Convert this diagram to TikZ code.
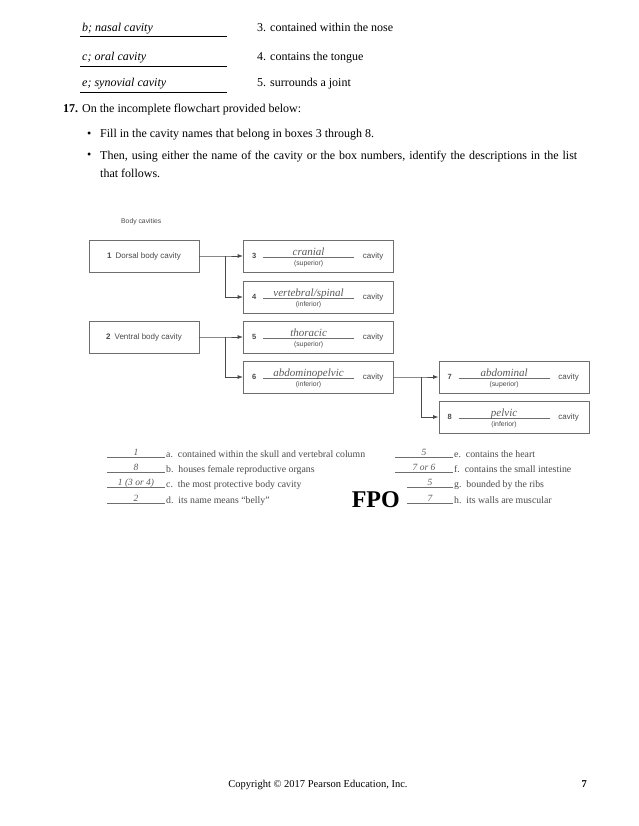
\documentclass[tikz,border=0pt]{standalone}
\usepackage{fontspec}
\setmainfont{Liberation Serif}
\newfontfamily\sansf{Liberation Sans}
\usetikzlibrary{arrows.meta}
\definecolor{figgray}{HTML}{4A4A4A}
\definecolor{linegray}{HTML}{6E6E6E}
\definecolor{handgray}{HTML}{5A5A5A}
\newcommand\cavbox[6]{%
  \node[cbox] (#1) at (#2,#3) {};
  \node[numst] at ([xshift=11pt]#1.west) {#4};
  \draw[ulfig] ([xshift=20pt,yshift=-1pt]#1.west) -- ([xshift=111pt,yshift=-1pt]#1.west);
  \node[handfig] at ([xshift=65.5pt,yshift=1pt]#1.west) {#5};
  \node[subst] at ([xshift=65.5pt,yshift=-8pt]#1.west) {#6};
  \node[figtxt] at ([xshift=130pt]#1.west) {cavity};
}
\begin{document}
\begin{tikzpicture}[x=1pt,y=-1pt,
  main/.style={font=\fontsize{12}{14}\selectfont, anchor=base west, inner sep=0pt},
  ital/.style={font=\fontsize{12}{14}\selectfont\itshape, anchor=base west, inner sep=0pt},
  ulmain/.style={draw=black, line width=0.8pt},
  cbox/.style={draw=linegray, line width=0.8pt, minimum width=150pt, minimum height=32pt, inner sep=0pt},
  bigbox/.style={draw=linegray, line width=0.8pt, minimum width=110pt, minimum height=32pt, inner sep=0pt, text=figgray, font=\sansf\fontsize{8}{9}\selectfont},
  numst/.style={font=\sansf\bfseries\fontsize{7.5}{8}\selectfont, text=figgray, inner sep=0pt},
  figtxt/.style={font=\sansf\fontsize{8}{9}\selectfont, text=figgray, inner sep=0pt},
  subst/.style={font=\sansf\fontsize{6.8}{8}\selectfont, text=figgray, inner sep=0pt},
  handfig/.style={font=\fontsize{11}{12}\selectfont\itshape, text=handgray, anchor=base, inner sep=0pt},
  ulfig/.style={draw=linegray, line width=0.7pt},
  conn/.style={draw=figgray, line width=0.8pt},
  arr/.style={conn, -{Latex[length=5.5pt,width=4pt]}},
  listtxt/.style={font=\fontsize{9.8}{11}\selectfont, text=figgray, anchor=base west, inner sep=0pt},
  listans/.style={font=\fontsize{9.5}{11}\selectfont\itshape, text=handgray, anchor=base, inner sep=0pt},
  ullist/.style={draw=linegray, line width=0.7pt}
]
\useasboundingbox (0,0) rectangle (638,826);
\fill[white] (0,0) rectangle (638,826);

% top matching items
\node[ital] (m1) at (82,32) {b; nasal cavity};
\draw[ulmain] (80,36) -- (227,36);
\node[main] (d1) at (257,32) {3. contained within the nose};
\node[ital] (m2) at (82,61) {c; oral cavity};
\draw[ulmain] (80,66) -- (227,66);
\node[main] (d2) at (257,61) {4. contains the tongue};
\node[ital] (m3) at (82,87) {e; synovial cavity};
\draw[ulmain] (80,92) -- (227,92);
\node[main] (d3) at (257,87) {5. surrounds a joint};

% question 17
\node[main] (q17) at (63,113) {\textbf{17.} On the incomplete flowchart provided below:};
\node[main] (bul1) at (87,138) {•};
\node[main] (t1) at (100,138) {Fill in the cavity names that belong in boxes 3 through 8.};
\node[main] (bul2) at (87,159) {•};
\node[anchor=north west, inner sep=0pt, font=\fontsize{12}{18}\selectfont] (t2) at (100,150.5)
  {\parbox[t]{477pt}{Then, using either the name of the cavity or the box numbers, identify the descriptions in the list\linebreak that follows.}};

% flowchart
\node[figtxt, font=\sansf\fontsize{6.8}{8}\selectfont, anchor=base west] (title) at (121,223) {Body cavities};
\node[bigbox] (b1) at (144,256) {\textbf{1}\enspace Dorsal body cavity};
\node[bigbox] (b2) at (144,337) {\textbf{2}\enspace Ventral body cavity};
\cavbox{b3}{318.5}{256}{3}{cranial}{(superior)}
\cavbox{b4}{318.5}{297}{4}{vertebral/spinal}{(inferior)}
\cavbox{b5}{318.5}{337}{5}{thoracic}{(superior)}
\cavbox{b6}{318.5}{377}{6}{abdominopelvic}{(inferior)}
\cavbox{b7}{514}{377}{7}{abdominal}{(superior)}
\cavbox{b8}{514}{417}{8}{pelvic}{(inferior)}

\draw[arr] (b1.east) -- ++(26,0) coordinate (j1) -- (b3.west);
\draw[arr] (j1) |- (b4.west);
\draw[arr] (b2.east) -- ++(26,0) coordinate (j2) -- (b5.west);
\draw[arr] (j2) |- (b6.west);
\draw[arr] (b6.east) -- ++(27.5,0) coordinate (j3) -- (b7.west);
\draw[arr] (j3) |- (b8.west);

% answer list, left column
\draw[ullist] (107,457) -- (165,457);
\node[listans] (la) at (136,455.5) {1};
\node[listtxt] (ta) at (166,457) {a.\ \ contained within the skull and vertebral column};
\draw[ullist] (107,472) -- (165,472);
\node[listans] (lb) at (136,470.5) {8};
\node[listtxt] (tb) at (166,472) {b.\ \ houses female reproductive organs};
\draw[ullist] (107,487) -- (165,487);
\node[listans] (lc) at (136,485.5) {1 (3 or 4)};
\node[listtxt] (tc) at (166,487) {c.\ \ the most protective body cavity};
\draw[ullist] (107,503) -- (165,503);
\node[listans] (ld) at (136,501.5) {2};
\node[listtxt] (td) at (166,503) {d.\ \ its name means “belly”};

% answer list, right column
\draw[ullist] (395,457) -- (453,457);
\node[listans] (le) at (424,455.5) {5};
\node[listtxt] (te) at (454,457) {e.\ \ contains the heart};
\draw[ullist] (395,472) -- (453,472);
\node[listans] (lf) at (424,470.5) {7 or 6};
\node[listtxt] (tf) at (454,472) {f.\ \ contains the small intestine};
\draw[ullist] (407,487) -- (453,487);
\node[listans] (lg) at (430,485.5) {5};
\node[listtxt] (tg) at (454,487) {g.\ \ bounded by the ribs};
\draw[ullist] (407,503) -- (453,503);
\node[listans] (lh) at (430,501.5) {7};
\node[listtxt] (th) at (454,503) {h.\ \ its walls are muscular};

\node[font=\fontsize{24}{26}\selectfont\bfseries, anchor=base east, inner sep=0pt] (fpo) at (400,507) {FPO};

% footer
\node[font=\fontsize{10.5}{12}\selectfont, anchor=base, inner sep=0pt] (copy) at (318,787) {Copyright © 2017 Pearson Education, Inc.};
\node[font=\fontsize{10.5}{12}\selectfont\bfseries, anchor=base east, inner sep=0pt] (pg) at (587,787) {7};
\end{tikzpicture}
\end{document}
